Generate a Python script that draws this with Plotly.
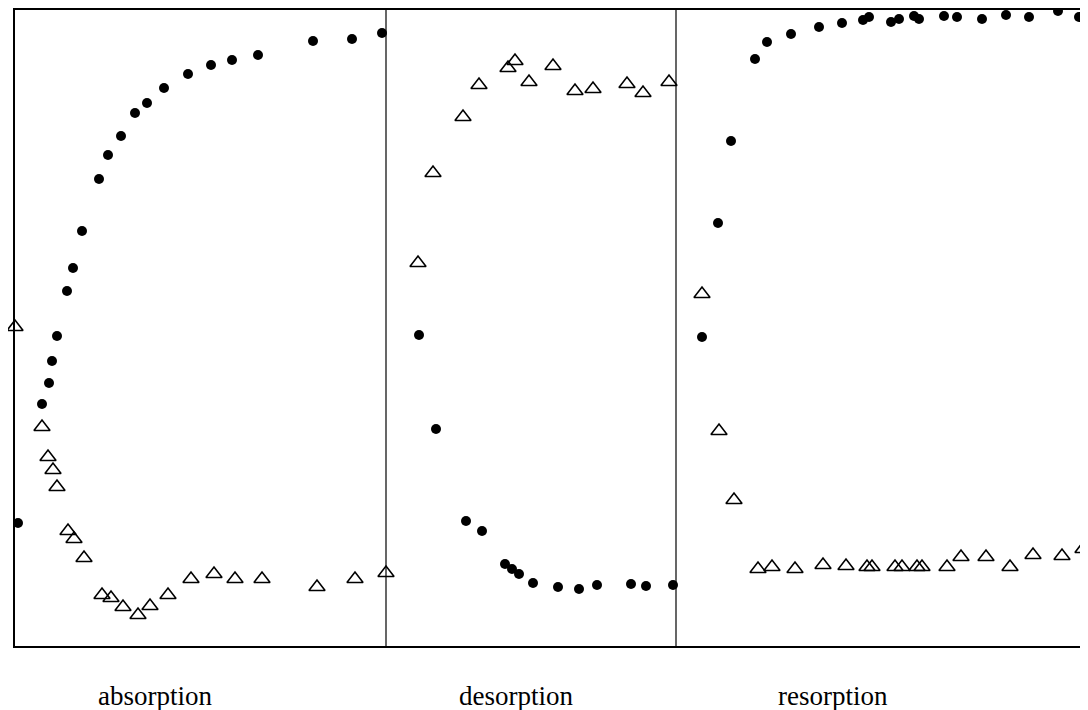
import plotly.graph_objects as go

# values (x: time, arbitrary units; y: signal, arbitrary units)
abs_circle_x = [3, 27, 34, 37, 42, 52, 58, 67, 84, 93, 106, 120, 132, 149, 173, 196, 217, 243, 298, 337, 367]
abs_circle_y = [123, 242, 263, 285, 310, 355, 378, 415, 467, 491, 510, 533, 543, 558, 572, 581, 586, 591, 605, 607, 613]
abs_tri_x = [0, 27, 33, 38, 42, 53, 59, 69, 87, 96, 108, 123, 135, 153, 176, 199, 220, 247, 302, 340, 371]
abs_tri_y = [319, 219, 189, 176, 159, 115, 107, 88, 51, 48, 39, 31, 40, 51, 67, 72, 67, 67, 59, 67, 73]

des_circle_x = [404, 421, 451, 467, 490, 497, 504, 518, 543, 564, 582, 616, 631, 658]
des_circle_y = [311, 217, 125, 115, 82, 77, 72, 63, 59, 57, 61, 62, 60, 61]
des_tri_x = [403, 418, 448, 464, 493, 500, 514, 538, 560, 578, 612, 628, 654]
des_tri_y = [383, 473, 529, 561, 578, 585, 564, 580, 555, 557, 562, 553, 564]

res_circle_x = [687, 703, 716, 740, 752, 776, 804, 827, 848, 854, 876, 884, 899, 904,
                929, 942, 967, 991, 1014, 1043, 1064]
res_circle_y = [309, 423, 505, 587, 604, 612, 619, 623, 626, 629, 624, 627, 630, 627,
                630, 629, 627, 631, 629, 635, 629]
res_tri_x = [687, 704, 719, 743, 757, 780, 808, 831, 852, 857, 880, 887, 902, 907,
             932, 946, 971, 995, 1018, 1047, 1068]
res_tri_y = [352, 215, 146, 77, 79, 77, 81, 80, 79, 79, 79, 79, 79, 79,
             79, 89, 89, 79, 91, 90, 97]

phase_names = ["absorption", "desorption", "resorption"]
phase_label_x = [140, 501, 818]
phase_boundaries = [371, 661]

x_range = [0, 1073]
y_range = [0, 636]

fig = go.Figure()

circle_x = abs_circle_x + des_circle_x + res_circle_x
circle_y = abs_circle_y + des_circle_y + res_circle_y
tri_x = abs_tri_x + des_tri_x + res_tri_x
tri_y = abs_tri_y + des_tri_y + res_tri_y

fig.add_trace(go.Scatter(
    x=tri_x, y=tri_y, mode="markers",
    marker=dict(symbol="triangle-up-open", size=14, color="black",
                line=dict(color="black", width=1.6)),
    cliponaxis=False, showlegend=False))
fig.add_trace(go.Scatter(
    x=circle_x, y=circle_y, mode="markers",
    marker=dict(symbol="circle", size=10, color="black"),
    cliponaxis=False, showlegend=False))

for b in phase_boundaries:
    fig.add_shape(type="line", x0=b, x1=b, y0=y_range[0], y1=y_range[1],
                  xref="x", yref="y", line=dict(color="black", width=1.2))

for name, lx in zip(phase_names, phase_label_x):
    fig.add_annotation(x=lx, y=0, xref="x", yref="paper", text=name,
                       showarrow=False, yanchor="top", yshift=-33,
                       font=dict(family="Liberation Serif, Times New Roman, serif",
                                 size=27, color="black"))

fig.update_xaxes(range=x_range, showgrid=False, zeroline=False, showticklabels=False,
                 ticks="", showline=True, linecolor="black", linewidth=2, mirror=True)
fig.update_yaxes(range=y_range, showgrid=False, zeroline=False, showticklabels=False,
                 ticks="", showline=True, linecolor="black", linewidth=2, mirror=False)

# the page body adds an 8px offset, so the figure is sized to fit the window
fig.update_layout(
    width=1080, height=702,
    margin=dict(l=7, r=0, t=2, b=64),
    paper_bgcolor="white", plot_bgcolor="white",
)

fig.write_html("out.html")
